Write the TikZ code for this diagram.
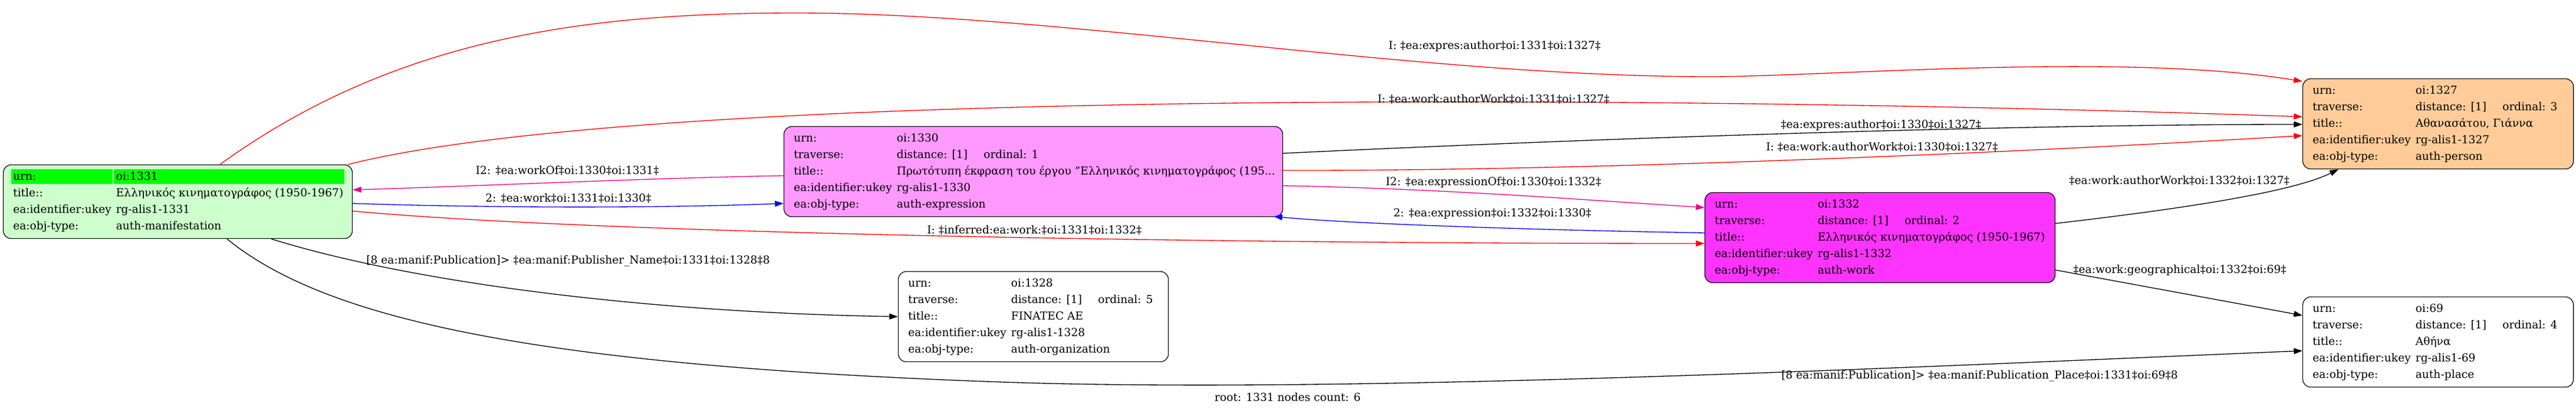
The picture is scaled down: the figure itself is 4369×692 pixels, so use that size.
\documentclass[tikz,border=0pt]{standalone}
\usepackage{fontspec}
\setmainfont{DejaVu Serif}
\usetikzlibrary{arrows.meta}

\definecolor{manifgreen}{HTML}{CCFFCC}
\definecolor{urngreen}{HTML}{00FF00}
\definecolor{exprpink}{HTML}{FF99FF}
\definecolor{workmagenta}{HTML}{FF33FF}
\definecolor{personorange}{HTML}{FFCC99}

% one row of a record: key column, then value
\newcommand{\kv}[2]{\rule{0pt}{14pt}\makebox[130.9pt][l]{#1}#2}
\newcommand{\trav}[1]{\makebox[110.6pt][l]{distance: [1]}ordinal: #1}

\tikzset{
  objbox/.style={draw=black, line width=0.9pt, rounded corners=10pt, anchor=north west, inner sep=0pt},
  rows/.style={anchor=north west, inner sep=0pt, align=left, font=\fontsize{14pt}{21pt}\selectfont},
  elabel/.style={inner sep=0pt, font=\fontsize{14pt}{16pt}\selectfont},
  rel/.style={line width=1pt, -{Triangle[length=11pt,width=7.5pt]}}
}

\begin{document}
\begin{tikzpicture}[x=0.75pt,y=-0.75pt]
\useasboundingbox (0,0) rectangle (4369,692);

% manifestation oi:1331 (root)
\node[objbox, fill=manifgreen, minimum width=444pt, minimum height=93.75pt] (n1331) at (5,279) {};
\fill[urngreen] ([shift={(14,8)}]n1331.north west) rectangle ([shift={(186,33)}]n1331.north west);
\fill[urngreen] ([shift={(188,8)}]n1331.north west) rectangle ([shift={(579,33)}]n1331.north west);
\node[rows] (t1331) at ([shift={(17,8)}]n1331.north west) {\kv{urn:}{oi:1331}\\
  \kv{title::}{Ελληνικός κινηματογράφος (1950-1967)}\\
  \kv{ea:identifier:ukey}{rg-alis1-1331}\\
  \kv{ea:obj-type:}{auth-manifestation}};

% expression oi:1330
\node[objbox, fill=exprpink, minimum width=634.5pt, minimum height=114.75pt] (n1330) at (1329,214) {};
\node[rows] (t1330) at ([shift={(17,8)}]n1330.north west) {\kv{urn:}{oi:1330}\\
  \kv{traverse:}{\trav{1}}\\
  \kv{title::}{Πρωτότυπη έκφραση του έργου "Ελληνικός κινηματογράφος (195...}\\
  \kv{ea:identifier:ukey}{rg-alis1-1330}\\
  \kv{ea:obj-type:}{auth-expression}};

% organization oi:1328
\node[objbox, fill=white, minimum width=343.5pt, minimum height=114.75pt] (n1328) at (1523,460) {};
\node[rows] (t1328) at ([shift={(17,8)}]n1328.north west) {\kv{urn:}{oi:1328}\\
  \kv{traverse:}{\trav{5}}\\
  \kv{title::}{FINATEC AE}\\
  \kv{ea:identifier:ukey}{rg-alis1-1328}\\
  \kv{ea:obj-type:}{auth-organization}};

% work oi:1332
\node[objbox, fill=workmagenta, minimum width=445.5pt, minimum height=114.75pt] (n1332) at (2891,326) {};
\node[rows] (t1332) at ([shift={(17,8)}]n1332.north west) {\kv{urn:}{oi:1332}\\
  \kv{traverse:}{\trav{2}}\\
  \kv{title::}{Ελληνικός κινηματογράφος (1950-1967)}\\
  \kv{ea:identifier:ukey}{rg-alis1-1332}\\
  \kv{ea:obj-type:}{auth-work}};

% person oi:1327
\node[objbox, fill=personorange, minimum width=344.25pt, minimum height=114.75pt] (n1327) at (3905,133) {};
\node[rows] (t1327) at ([shift={(17,8)}]n1327.north west) {\kv{urn:}{oi:1327}\\
  \kv{traverse:}{\trav{3}}\\
  \kv{title::}{Αθανασάτου, Γιάννα}\\
  \kv{ea:identifier:ukey}{rg-alis1-1327}\\
  \kv{ea:obj-type:}{auth-person}};

% place oi:69
\node[objbox, fill=white, minimum width=344.25pt, minimum height=114.75pt] (n69) at (3905,503) {};
\node[rows] (t69) at ([shift={(17,8)}]n69.north west) {\kv{urn:}{oi:69}\\
  \kv{traverse:}{\trav{4}}\\
  \kv{title::}{Αθήνα}\\
  \kv{ea:identifier:ukey}{rg-alis1-69}\\
  \kv{ea:obj-type:}{auth-place}};

% relations of oi:1331
\draw[rel, red] ([shift={(368,0)}]n1331.north west) .. controls (673,62) and (1000,22) .. (1350,22)
  .. controls (1800,22) and (2400,130) .. (2900,130)
  .. controls (3100,130) and (3600,88) .. ([shift={(0,5)}]n1327.north west);
\draw[rel, red] ([shift={(-8,0)}]n1331.north east) .. controls (1100,150) and (2800,160) .. ([shift={(0,65)}]n1327.north west);
\draw[rel, magenta] ([shift={(0,84)}]n1330.north west) .. controls (1100,302) and (800,316) .. ([shift={(0,43)}]n1331.north east);
\draw[rel, blue] ([shift={(0,66)}]n1331.north east) .. controls (800,352) and (1100,354) .. ([shift={(0,131)}]n1330.north west);
\draw[rel, red] ([shift={(0,79)}]n1331.north east) .. controls (1000,395) and (2000,413) .. ([shift={(0,87)}]n1332.north west);
\draw[rel] ([shift={(455,0)}]n1331.south west) .. controls (700,480) and (1100,530) .. ([shift={(0,77)}]n1328.north west);
\draw[rel] ([shift={(380,0)}]n1331.south west) .. controls (550,540) and (900,620) .. (1700,648)
  .. controls (2300,669) and (3300,620) .. ([shift={(0,92)}]n69.north west);

% relations of oi:1330
\draw[rel] ([shift={(0,46)}]n1330.north east) .. controls (2700,235) and (3400,211) .. ([shift={(0,78)}]n1327.north west);
\draw[rel, red] ([shift={(0,75)}]n1330.north east) .. controls (2700,290) and (3400,260) .. ([shift={(0,97)}]n1327.north west);
\draw[rel, magenta] ([shift={(0,101)}]n1330.north east) .. controls (2450,320) and (2700,340) .. ([shift={(0,26)}]n1332.north west);

% relations of oi:1332
\draw[rel, blue] ([shift={(0,69)}]n1332.north west) .. controls (2600,390) and (2300,380) .. ([shift={(-16,-1)}]n1330.south east);
\draw[rel] ([shift={(0,53)}]n1332.north east) .. controls (3650,360) and (3880,330) .. ([shift={(61,0)}]n1327.south west);
\draw[rel] ([shift={(0,132)}]n1332.north east) -- ([shift={(0,32)}]n69.north west);

% edge labels
\node[elabel, anchor=base] (l1) at (2535,84) {I: ‡ea:expres:author‡oi:1331‡oi:1327‡};
\node[elabel, anchor=base] (l2) at (2533,174) {I: ‡ea:work:authorWork‡oi:1331‡oi:1327‡};
\node[elabel, anchor=base east] (l3) at (1118,295) {I2: ‡ea:workOf‡oi:1330‡oi:1331‡};
\node[elabel, anchor=base east] (l4) at (1105,342) {2: ‡ea:work‡oi:1331‡oi:1330‡};
\node[elabel, anchor=base west] (l5) at (1572,396) {I: ‡inferred:ea:work:‡oi:1331‡oi:1332‡};
\node[elabel, anchor=base west] (l6) at (621,447) {[8 ea:manif:Publication]> ‡ea:manif:Publisher\_Name‡oi:1331‡oi:1328‡8};
\node[elabel, anchor=base east] (l7) at (3694,642) {[8 ea:manif:Publication]> ‡ea:manif:Publication\_Place‡oi:1331‡oi:69‡8};
\node[elabel, anchor=base west] (l8) at (3020,217) {‡ea:expres:author‡oi:1330‡oi:1327‡};
\node[elabel, anchor=base west] (l9) at (2995,255) {I: ‡ea:work:authorWork‡oi:1330‡oi:1327‡};
\node[elabel, anchor=base west] (l10) at (2350,314) {I2: ‡ea:expressionOf‡oi:1330‡oi:1332‡};
\node[elabel, anchor=base west] (l11) at (2363,367) {2: ‡ea:expression‡oi:1332‡oi:1330‡};
\node[elabel, anchor=base west] (l12) at (3509,312) {‡ea:work:authorWork‡oi:1332‡oi:1327‡};
\node[elabel, anchor=base west] (l13) at (3516,463) {‡ea:work:geographical‡oi:1332‡oi:69‡};

% graph label
\node[elabel, anchor=base] (root) at (2184,680) {root: 1331 nodes count: 6};
\end{tikzpicture}
\end{document}
